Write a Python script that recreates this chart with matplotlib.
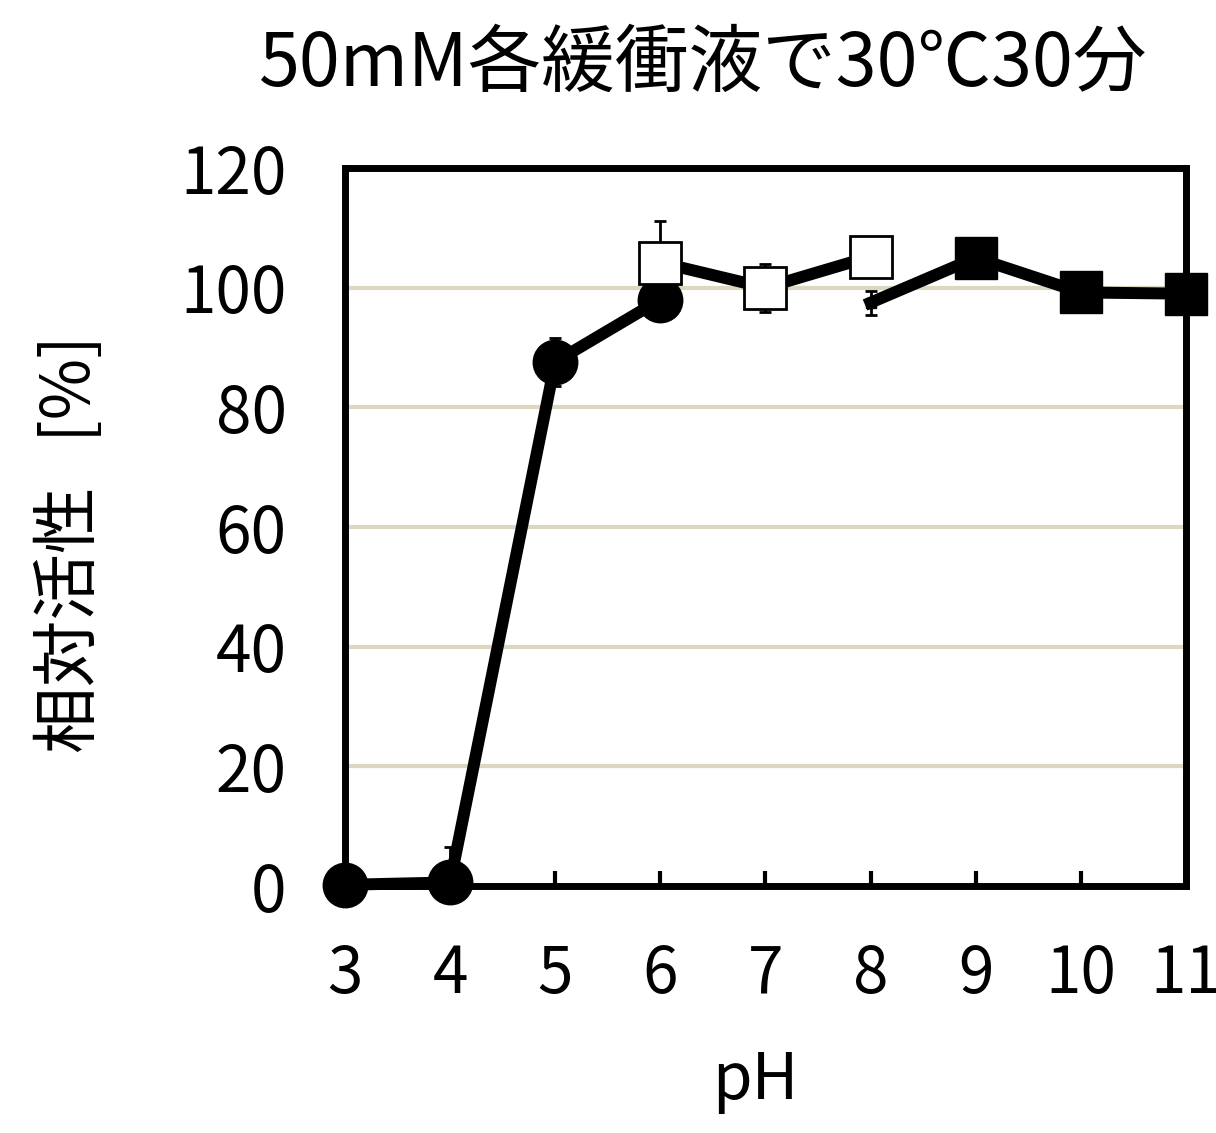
import matplotlib
matplotlib.use("Agg")
import matplotlib.pyplot as plt

plt.rcParams['font.family'] = ['Noto Sans CJK JP', 'DejaVu Sans']

# data
ph_a = [3, 4, 5, 6]
act_a = [0.2, 0.6, 87.6, 98.0]
err_a_lo = [0.0, 0.0, 4.0, 0.0]
err_a_hi = [0.0, 6.0, 4.0, 0.0]

ph_b = [6, 7, 8]
act_b = [104.2, 100.0, 105.2]
err_b_lo = [0.0, 4.0, 0.0]
err_b_hi = [7.0, 4.0, 0.0]

ph_c = [8, 9, 10, 11]
act_c = [97.5, 105.0, 99.2, 99.0]
err_c = [2.0, 0.0, 0.0, 0.0]

xticks = [3, 4, 5, 6, 7, 8, 9, 10, 11]
yticks = [0, 20, 40, 60, 80, 100, 120]
grid_vals = [20, 40, 60, 80, 100]

fig = plt.figure(figsize=(12.16, 11.33), dpi=100)
ax = fig.add_axes([0.2837, 0.2180, 0.6916, 0.6337])

for g in grid_vals:
    ax.axhline(g, color='#dcd7c1', lw=3, zorder=0)

lw = 8.6
ax.errorbar(ph_a, act_a, yerr=[err_a_lo, err_a_hi], color='black', lw=lw,
            marker='o', ms=32, ecolor='black', elinewidth=2, capsize=4.5,
            capthick=2, clip_on=False, zorder=3)
ax.errorbar(ph_c, act_c, yerr=err_c, color='black', lw=lw, marker='s', ms=30,
            markevery=[1, 2, 3], ecolor='black', elinewidth=2, capsize=4.5,
            capthick=2, clip_on=False, zorder=3)
ax.plot(ph_c[:1], act_c[:1], 's', color='black', ms=7, zorder=3)
ax.errorbar(ph_b, act_b, yerr=[err_b_lo, err_b_hi], color='black', lw=lw,
            marker='s', ms=30, mfc='white', mec='black', mew=2, ecolor='black',
            elinewidth=2, capsize=4.5, capthick=2, clip_on=False, zorder=4)

ax.set_xlim(3, 11)
ax.set_ylim(0, 120)
ax.set_xticks(xticks)
ax.set_yticks(yticks)
ax.tick_params(axis='x', direction='in', length=11, width=3, labelsize=46, pad=40)
ax.tick_params(axis='y', length=0, labelsize=46, pad=42)
for s in ax.spines.values():
    s.set_linewidth(5)
    s.set_zorder(2)

fig.text(0.621, 0.046, 'pH', fontsize=46, ha='center', va='center')
fig.text(0.578, 0.943, '50mM各緩衝液で30℃30分', fontsize=53, ha='center', va='center')
fig.text(0.058, 0.52, '相対活性   [%]', fontsize=48, rotation=90, ha='center', va='center')

fig.savefig('out.png', dpi=100)
